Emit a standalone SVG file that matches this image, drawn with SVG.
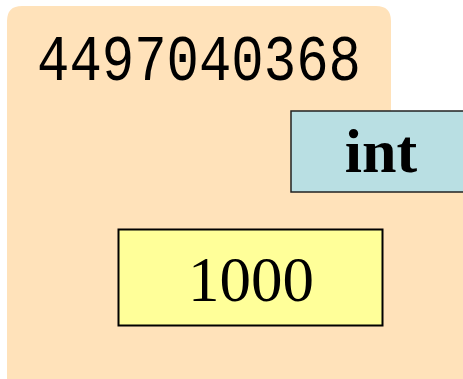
<svg xmlns="http://www.w3.org/2000/svg" width="463" height="379" viewBox="0 0 463 379">
<style>
.frame{fill:#FFE2BA;stroke:none}
.addr{font-family:"Liberation Mono",monospace;font-size:54px;fill:#000}
.type{font-family:"Liberation Serif",serif;font-weight:bold;font-size:62px;fill:#000;text-anchor:middle}
.val{font-family:"Liberation Serif",serif;font-size:63px;fill:#000;text-anchor:middle}
</style>
<g id="folder">
<path class="frame" d="M7,21 Q7,6 22,6 L376,6 Q391,6 391,21 L391,111 L463,111 L463,379 L7,379 Z"/>
<text class="addr" x="37" y="80" transform="translate(0,80) scale(1,1.2) translate(0,-80)">4497040368</text>
</g>
<g id="type-box">
<rect x="291" y="111" width="174" height="81" fill="#B9DFE3" stroke="#222" stroke-width="1.5"/>
<text class="type" x="381" y="172">int</text>
</g>
<g id="value-box">
<rect x="118.5" y="229.5" width="264" height="96" fill="#FFFF99" stroke="#000" stroke-width="2"/>
<text class="val" x="251" y="301">1000</text>
</g>
<g id="connectors"/>
</svg>
